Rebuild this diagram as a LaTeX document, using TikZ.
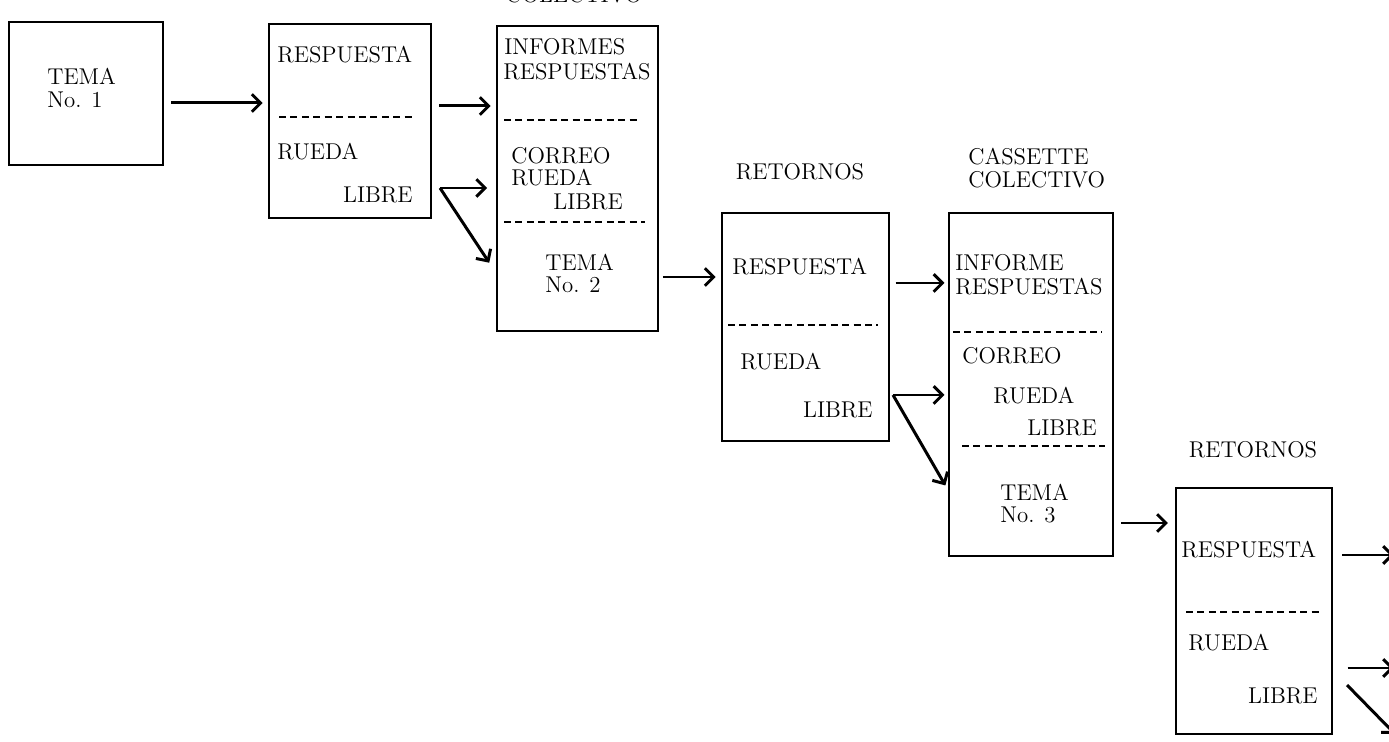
\documentclass[tikz,border=0pt]{standalone}
\usetikzlibrary{arrows.meta}
\begin{document}
\begin{tikzpicture}[x=0.02cm, y=-0.02cm,
    box/.style={draw, line width=1.4pt, inner sep=0pt, anchor=north west},
    txt/.style={inner sep=0pt, anchor=west, font=\fontsize{13}{15}\selectfont},
    arr/.style={line width=1.7pt, -{Straight Barb[length=5pt,width=10pt]}},
    sep/.style={line width=1.1pt, dash pattern=on 4pt off 2.5pt}]

    \useasboundingbox (0,0) rectangle (1389,742);

    % Boxes
    \node[box, minimum width=3.08cm, minimum height=2.86cm] (tema1) at (8,21) {};
    \node[box, minimum width=3.24cm, minimum height=3.88cm] (ret1) at (268,23) {};
    \node[box, minimum width=3.22cm, minimum height=6.10cm] (col1) at (496,25) {};
    \node[box, minimum width=3.34cm, minimum height=4.56cm] (ret2) at (721,212) {};
    \node[box, minimum width=3.28cm, minimum height=6.86cm] (col2) at (948,212) {};
    \node[box, minimum width=3.12cm, minimum height=4.92cm] (ret3) at (1175,487) {};

    % Headings
    \node[txt, anchor=center] (hcol1) at (574,-5) {COLECTIVO};
    \node[txt, anchor=center] (hret2) at (800,172) {RETORNOS};
    \node[txt] (hcas2) at (968,157) {CASSETTE};
    \node[txt] (hcol2) at (968,180) {COLECTIVO};
    \node[txt, anchor=center] (hret3) at (1253,450) {RETORNOS};

    % 1st column
    \node[txt] (t1a) at (47,76) {TEMA};
    \node[txt] (t1b) at (47,100) {No. 1};

    % 2nd column
    \node[txt] (r1a) at (277,55) {RESPUESTA};
    \draw[sep] (279,117) -- (413,117);
    \node[txt] (r1b) at (277,152) {RUEDA};
    \node[txt, anchor=east] (r1c) at (413,195) {LIBRE};

    % 3rd column
    \node[txt] (c1a) at (504,47) {INFORMES};
    \node[txt, fill=white] (c1b) at (503,72) {RESPUESTAS};
    \draw[sep] (504,120) -- (640,120);
    \node[txt] (c1c) at (511,156) {CORREO};
    \node[txt] (c1d) at (511,178) {RUEDA};
    \node[txt] (c1e) at (553,202) {LIBRE};
    \draw[sep] (504,222) -- (645,222);
    \node[txt] (c1f) at (545,262) {TEMA};
    \node[txt] (c1g) at (545,285) {No. 2};

    % 4th column
    \node[txt] (r2a) at (732,267) {RESPUESTA};
    \draw[sep] (728,325) -- (878,325);
    \node[txt] (r2b) at (740,362) {RUEDA};
    \node[txt, anchor=east] (r2c) at (873,410) {LIBRE};

    % 5th column
    \node[txt] (c2a) at (955,263) {INFORME};
    \node[txt, fill=white] (c2b) at (955,287) {RESPUESTAS};
    \draw[sep] (953,332) -- (1102,332);
    \node[txt] (c2c) at (962,356) {CORREO};
    \node[txt] (c2d) at (993,396) {RUEDA};
    \node[txt] (c2e) at (1027,428) {LIBRE};
    \draw[sep] (962,446) -- (1105,446);
    \node[txt] (c2f) at (1000,492) {TEMA};
    \node[txt] (c2g) at (1000,515) {No. 3};

    % 6th column
    \node[txt] (r3a) at (1181,550) {RESPUESTA};
    \draw[sep] (1186,612) -- (1320,612);
    \node[txt] (r3b) at (1188,643) {RUEDA};
    \node[txt, anchor=east] (r3c) at (1318,696) {LIBRE};

    % Arrows
    \coordinate (f1) at (440,188);
    \coordinate (f2) at (893,395);
    \coordinate (d3) at (1347,685);
    \coordinate (o1) at (1394,555);
    \coordinate (o2) at (1394,668);
    \coordinate (o3) at (1395,734);

    \draw[arr, shorten <=4pt, shorten >=3pt] (tema1.east |- 0,103) -- (ret1.west |- 0,103);
    \draw[arr, shorten <=4pt, shorten >=3pt] (ret1.east |- 0,106) -- (col1.west |- 0,106);
    \draw[arr, shorten >=5pt] (f1) -- (col1.west |- f1);
    \draw[arr, shorten >=7pt] (f1) -- (col1.west |- 0,273);
    \draw[arr, shorten <=2pt, shorten >=3pt] (col1.east |- 0,277) -- (ret2.west |- 0,277);
    \draw[arr, shorten <=3pt, shorten >=2pt] (ret2.east |- 0,283) -- (col2.west |- 0,283);
    \draw[arr, shorten >=2pt] (f2) -- (col2.west |- f2);
    \draw[arr, shorten >=3pt] (f2) -- (col2.west |- 0,490);
    \draw[arr, shorten <=4pt, shorten >=4pt] (col2.east |- 0,523) -- (ret3.west |- 0,523);
    \draw[arr, shorten <=5pt] (ret3.east |- o1) -- (o1);
    \draw[arr, shorten <=8pt] (ret3.east |- o2) -- (o2);
    \draw[arr] (d3) -- (o3);
\end{tikzpicture}
\end{document}
